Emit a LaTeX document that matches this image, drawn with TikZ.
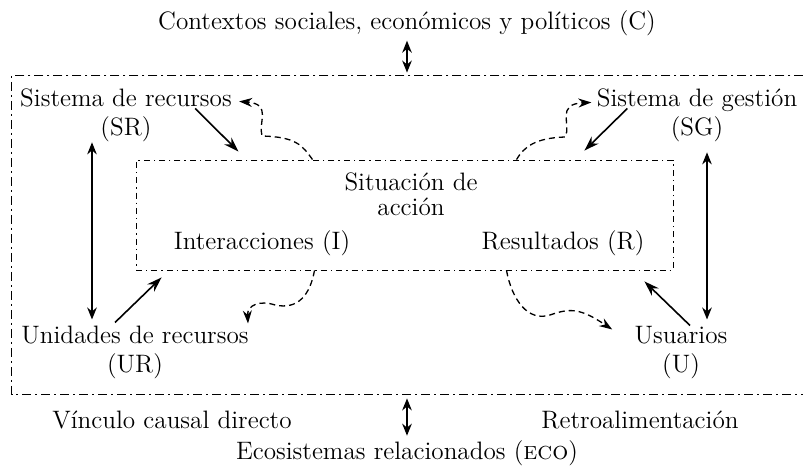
\documentclass[tikz,border=0pt]{standalone}
\usepackage{tikz}
\usetikzlibrary{arrows.meta,calc}
\tikzstyle{txt} = [inner sep=0pt, font=\fontsize{12.6}{14.5}\selectfont]
\tikzstyle{frame} = [line width=0.65pt, dash pattern=on 4.5pt off 2pt on 1pt off 2pt]
\tikzstyle{arena} = [draw, line width=0.45pt, dash pattern=on 3pt off 2pt on 0.7pt off 2pt, minimum width=268.5pt, minimum height=55pt, inner sep=0pt]
\tikzstyle{causal} = [line width=0.8pt, -{Stealth[length=7.5pt, width=5pt]}]
\tikzstyle{mutual} = [line width=0.8pt, {Stealth[length=6pt, width=4.8pt]}-{Stealth[length=6pt, width=4.8pt]}]
\tikzstyle{feedback} = [line width=0.65pt, dash pattern=on 3pt off 2pt, -{Stealth[length=6.5pt, width=4.5pt]}]
\begin{document}
\begin{tikzpicture}[x=0.5pt, y=-0.5pt, every text node part/.style={align=center}]
        \useasboundingbox (0,0) rectangle (803,469);
        \node (ctx) [txt, anchor=base] at (407,30) {Contextos sociales, económicos y políticos (C)};
        \node (ses) [minimum width=395.5pt, minimum height=159pt, inner sep=0pt] at (407.5,235) {};
        \node (sa) [arena] at (404.5,215) {};
        \node (title) [txt, font=\fontsize{12.6}{12.5}\selectfont, anchor=north] at (411,172.4) {Situación de\\acción};
        \node (int) [txt, anchor=base] at (262,250) {Interacciones (I)};
        \node (res) [txt, anchor=base] at (563,250) {Resultados (R)};
        \node (sr) [txt, anchor=north] at (126,88.5) {Sistema de recursos\\(SR)};
        \node (sg) [txt, anchor=north] at (697,88.5) {Sistema de gestión\\(SG)};
        \node (ur) [txt, anchor=north] at (135,325.5) {Unidades de recursos\\(UR)};
        \node (u) [txt, anchor=north] at (681,325.5) {Usuarios\\(U)};
        \node (vin) [txt, anchor=base] at (172,429) {Vínculo causal directo};
        \node (ret) [txt, anchor=base] at (640,429) {Retroalimentación};
        \node (eco) [txt, anchor=base] at (407,460) {Ecosistemas relacionados (\textsc{eco})};
        \draw [frame] (ses.north east) -- (ses.north west) -- (ses.south west) -- (ses.south east);
        \draw [mutual, shorten <=2pt, shorten >=1.5pt] (ctx.south) -- (ctx.south |- ses.north);
        \draw [mutual, shorten <=2pt, shorten >=2.5pt] (eco.north |- ses.south) -- (eco.north);
        \draw [mutual, shorten >=3pt] ([xshift=-17pt]sr.south) -- ([xshift=-17pt]sr.south |- ur.north);
        \draw [mutual, shorten <=5pt, shorten >=3pt] ([xshift=5pt]sg.south) -- ([xshift=5pt]sg.south |- u.north);
        \draw [causal] ([shift={(-37,-7)}]sr.east) -- ([shift={(-166,-8)}]sa.north);
        \draw [causal] ([shift={(31,-7)}]sg.west) -- ([shift={(-89,-9)}]sa.north east);
        \draw [causal] ([shift={(-20,-3)}]ur.north) -- ([shift={(26,7)}]sa.south west);
        \draw [causal] ([shift={(9,0)}]u.north) -- ([shift={(-29,11)}]sa.south east);
        \draw [feedback] ([xshift=-46pt]sa.north) .. controls (302,145) and (296,137) .. (262,136) .. controls (258,122) and (272,104) .. ([shift={(7,-14)}]sr.east);
        \draw [feedback] ([xshift=56pt]sa.north) .. controls (524,147) and (535,138) .. (565,137) .. controls (572,125) and (555,104) .. ([shift={(-5,-13)}]sg.west);
        \draw [feedback] ([xshift=-45pt]sa.south) .. controls (310,295) and (298,310) .. (275,305) .. controls (260,300) and (247,305) .. ([shift={(-1,-2)}]ur.north east);
        \draw [feedback] ([xshift=51pt]sa.south) .. controls (512,300) and (528,322) .. (550,315) .. controls (570,308) and (580,308) .. ([shift={(-22,4)}]u.north west);
    \end{tikzpicture}
\end{document}
